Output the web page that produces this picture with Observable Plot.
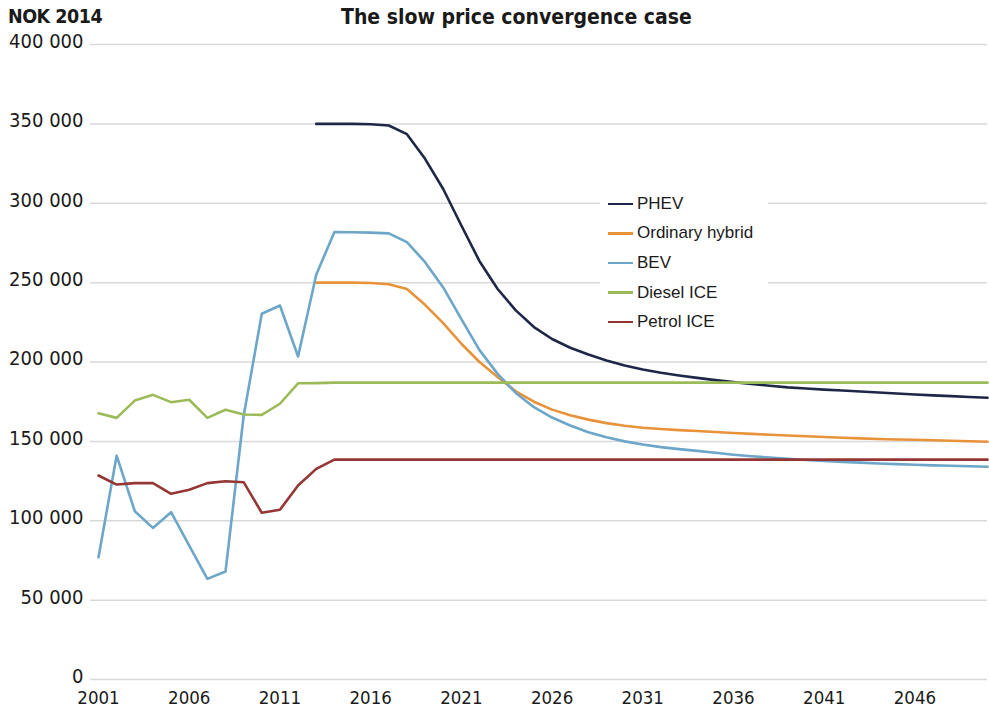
<!DOCTYPE html>
<html><head><meta charset="utf-8">
<script src="https://cdn.jsdelivr.net/npm/d3@7"></script>
<script src="https://cdn.jsdelivr.net/npm/@observablehq/plot@0.6"></script>
<style>
body{margin:0;background:#fff;}
#wrap{position:relative;width:989px;height:707px;font-family:"DejaVu Sans Condensed","Liberation Sans",sans-serif;color:#1a1a1a;}
#unit{position:absolute;left:8px;top:5px;font-weight:bold;font-size:19.5px;letter-spacing:-0.5px;z-index:2;}
#title{position:absolute;left:341px;top:5px;font-weight:bold;font-size:21px;z-index:2;white-space:nowrap;}
#legend{position:absolute;left:600px;top:187px;width:160px;background:#fff;padding:2px 0 4px 8px;z-index:2;font-family:"Liberation Sans",Arial,sans-serif;font-size:17px;}
#legend div{height:29.6px;display:flex;align-items:center;}
#legend span.sw{display:inline-block;width:25px;height:2.5px;margin-right:4px;}
</style></head>
<body>
<div id="wrap">
  <div id="unit">NOK 2014</div>
  <div id="title">The slow price convergence case</div>
  <div id="legend"></div>
  <div id="chart"></div>
</div>
<script>
const years = [2001,2002,2003,2004,2005,2006,2007,2008,2009,2010,2011,2012,2013,2014,2015,2016,2017,2018,2019,2020,2021,2022,2023,2024,2025,2026,2027,2028,2029,2030,2031,2032,2033,2034,2035,2036,2037,2038,2039,2040,2041,2042,2043,2044,2045,2046,2047,2048,2049,2050];

const phev = [null,null,null,null,null,null,null,null,null,null,null,null,
  350000,350000,350000,349800,349000,343500,328000,309000,286000,263500,246000,232500,222000,214500,209000,204700,201000,197800,195300,193200,191500,190000,188600,187300,186100,185000,184000,183300,182600,182000,181400,180800,180200,179500,179000,178500,178000,177500];
const hybrid = [null,null,null,null,null,null,null,null,null,null,null,null,
  250000,250000,250000,249800,249000,246000,236000,224500,211500,200000,190500,181500,175000,170000,166500,163700,161500,159800,158600,157800,157100,156500,155900,155300,154700,154200,153700,153200,152800,152300,151900,151500,151200,151000,150700,150400,150100,149800];
const bev = [77000,141000,106000,95500,105400,84400,63400,68000,166000,230400,235600,203500,
  255000,281800,281700,281500,281000,275500,262900,247000,227000,207500,192500,180500,171500,165000,160000,155800,152600,150000,148000,146400,145100,144000,142800,141600,140600,139800,139000,138300,137700,137100,136600,136100,135700,135300,134900,134600,134300,134000];
const diesel = [167700,164800,175700,179300,174700,176200,164800,169900,166900,166700,173700,186600,
  186700,187000,187000,187000,187000,187000,187000,187000,187000,187000,187000,187000,187000,187000,187000,187000,187000,187000,187000,187000,187000,187000,187000,187000,187000,187000,187000,187000,187000,187000,187000,187000,187000,187000,187000,187000,187000,187000];
const petrol = [128500,122800,123700,123700,117000,119500,123700,124900,124300,105000,106900,122200,
  132700,138500,138500,138500,138500,138500,138500,138500,138500,138500,138500,138500,138500,138500,138500,138500,138500,138500,138500,138500,138500,138500,138500,138500,138500,138500,138500,138500,138500,138500,138500,138500,138500,138500,138500,138500,138500,138500];

const seriesNames = ["PHEV","Ordinary hybrid","BEV","Diesel ICE","Petrol ICE"];
const seriesValues = [phev, hybrid, bev, diesel, petrol];
const seriesColors = ["#1f2748","#e8923a","#6ca6c9","#9bbb59","#943634"];
const yTicks = [0,50000,100000,150000,200000,250000,300000,350000,400000];
const xTicks = [2001,2006,2011,2016,2021,2026,2031,2036,2041,2046];

const rows = [];
seriesNames.forEach((name, i) => {
  seriesValues[i].forEach((v, j) => { if (v != null) rows.push({series: name, year: years[j], value: v}); });
});
const fmt = d => d3.format(",")(d).replace(/,/g, " ");

const chart = Plot.plot({
  width: 989,
  height: 707,
  marginTop: 44,
  marginBottom: 28,
  marginLeft: 90,
  marginRight: 2,
  style: {fontFamily: '"DejaVu Sans Condensed","Liberation Sans",sans-serif', color: "#1a1a1a", background: "#fff"},
  x: {domain: [2001, 2050], insetLeft: 8},
  y: {domain: [0, 400000]},
  color: {domain: seriesNames, range: seriesColors},
  marks: [
    Plot.ruleY(yTicks, {stroke: "#d9d9d9", strokeWidth: 1.5}),
    Plot.axisY(yTicks, {tickSize: 0, tickPadding: 7, dy: -3, tickFormat: fmt, fontSize: 20, label: null}),
    Plot.axisX(xTicks, {tickSize: 0, tickPadding: 11, tickFormat: d => String(d), fontSize: 18.5, label: null}),
    Plot.line(rows, {x: "year", y: "value", z: "series", stroke: "series", strokeWidth: 2.6, strokeLinejoin: "round"})
  ]
});
document.getElementById("chart").appendChild(chart);

const leg = document.getElementById("legend");
seriesNames.forEach((n, i) => {
  const d = document.createElement("div");
  d.innerHTML = `<span class="sw" style="background:${seriesColors[i]}"></span>${n}`;
  leg.appendChild(d);
});
</script>
</body></html>
